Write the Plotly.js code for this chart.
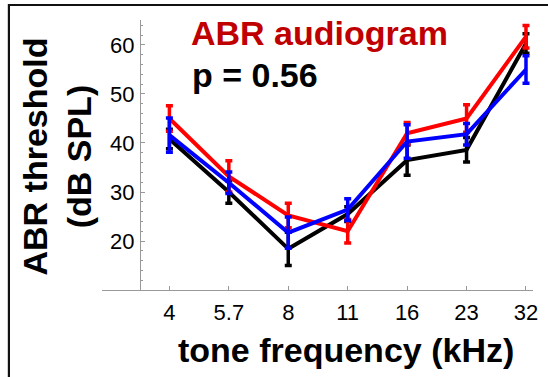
<!DOCTYPE html>
<html>
<head>
<meta charset="utf-8">
<script src="https://cdn.plot.ly/plotly-3.0.1.min.js"></script>
<style>
html,body{margin:0;padding:0;background:#fff;}
#chart{width:548px;height:377px;}
</style>
</head>
<body>
<div id="chart"></div>
<script>
// ---- data ----
const freqLabels = ['4', '5.7', '8', '11', '16', '23', '32'];
const blackVals = [40.8, 30.0, 18.4, 25.5, 36.5, 38.6, 60.3];
const blackErr  = [2.0, 2.3, 3.4, 1.5, 3.1, 2.5, 2.0];
const redVals   = [45.0, 33.2, 25.2, 22.0, 42.0, 45.0, 61.7];
const redErr    = [2.6, 3.2, 2.5, 2.4, 2.2, 2.8, 2.3];
const blueVals  = [41.6, 31.9, 21.7, 26.4, 40.3, 41.8, 55.0];
const blueErr   = [3.5, 2.2, 3.2, 2.2, 3.4, 2.2, 2.8];
const yTicks = [20, 30, 40, 50, 60];

// ---- layout geometry (pixels) ----
const W = 548, H = 377;
const L = 101.5, R = 533, T = 20, B = 290;
const pw = R - L, ph = B - T;
const px2x = p => (p - L) / pw;
const px2y = p => 1 - (p - T) / ph;

function series(vals, errs, color) {
  return {
    type: 'scatter', mode: 'lines',
    x: freqLabels, y: vals,
    line: {color: color, width: 4},
    error_y: {type: 'data', array: errs, visible: true, color: color, thickness: 3.5, width: 3.5},
    cliponaxis: false, hoverinfo: 'skip'
  };
}

const data = [
  series(blackVals, blackErr, '#000000'),
  series(redVals, redErr, '#ff0000'),
  series(blueVals, blueErr, '#0000ff')
];

const boldFont = {family: 'Liberation Sans, Arial, sans-serif', size: 34, color: '#000'};

const layout = {
  width: W, height: H,
  margin: {l: L, r: W - R, t: T, b: H - B, pad: 0},
  paper_bgcolor: '#fff', plot_bgcolor: '#fff',
  showlegend: false,
  font: {family: 'Liberation Sans, Arial, sans-serif', size: 22, color: '#000'},
  xaxis: {
    type: 'category', range: [-1.134, 6.118],
    showline: true, linecolor: '#999', linewidth: 1,
    showgrid: false, zeroline: false,
    ticks: 'inside', ticklen: 4, tickcolor: '#999', tickwidth: 1,
    tickfont: {size: 22, color: '#000'},
    ticklabelstandoff: 3
  },
  yaxis: {
    range: [10, 65.1],
    anchor: 'free', position: px2x(139.5),
    showline: true, linecolor: '#999', linewidth: 1,
    showgrid: false, zeroline: false,
    tickmode: 'array', tickvals: yTicks, ticktext: yTicks.map(String),
    ticks: 'inside', ticklen: 4, tickcolor: '#999', tickwidth: 1,
    minor: {dtick: 2, tick0: 0, ticks: 'inside', ticklen: 2, tickcolor: '#999', tickwidth: 1},
    tickfont: {size: 22, color: '#000'},
    ticklabelstandoff: 1
  },
  shapes: [
    {type: 'rect', xref: 'paper', yref: 'paper',
     x0: px2x(8.3), x1: px2x(570), y0: px2y(5), y1: px2y(400),
     line: {color: '#111', width: 2.2}, fillcolor: 'rgba(0,0,0,0)', layer: 'above'}
  ],
  annotations: [
    {text: '<b>ABR audiogram</b>', xref: 'paper', yref: 'paper',
     x: px2x(189), y: px2y(33), xanchor: 'left', yanchor: 'middle', showarrow: false,
     font: Object.assign({}, boldFont, {color: '#c00000'})},
    {text: '<b>p = 0.56</b>', xref: 'paper', yref: 'paper',
     x: px2x(190), y: px2y(75), xanchor: 'left', yanchor: 'middle', showarrow: false,
     font: boldFont},
    {text: '<b>tone frequency (kHz)</b>', xref: 'paper', yref: 'paper',
     x: px2x(346), y: px2y(350), xanchor: 'center', yanchor: 'middle', showarrow: false,
     font: boldFont},
    {text: '<b>ABR threshold<br>(dB SPL)</b>', xref: 'paper', yref: 'paper',
     x: px2x(56), y: px2y(157), xanchor: 'center', yanchor: 'middle', showarrow: false,
     textangle: -90, font: boldFont}
  ]
};

Plotly.newPlot('chart', data, layout, {staticPlot: true, displayModeBar: false});
</script>
</body>
</html>
